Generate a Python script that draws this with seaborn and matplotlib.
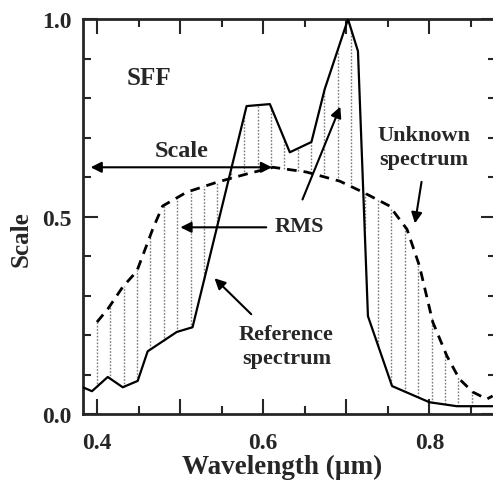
import numpy as np
import pandas as pd
import matplotlib
matplotlib.use("Agg")
import matplotlib.pyplot as plt
from matplotlib.ticker import MultipleLocator, FuncFormatter
import seaborn as sns

# spettro di riferimento (linea continua)
ref_x = [0.383, 0.394, 0.413, 0.431, 0.449, 0.461, 0.496, 0.515, 0.580, 0.608,
         0.632, 0.658, 0.674, 0.702, 0.714, 0.726, 0.755, 0.800, 0.833, 0.876]
ref_y = [0.068, 0.058, 0.094, 0.068, 0.084, 0.159, 0.208, 0.220, 0.780, 0.785,
         0.663, 0.689, 0.823, 1.000, 0.919, 0.248, 0.071, 0.030, 0.020, 0.020]

# spettro sconosciuto (linea tratteggiata)
unk_x = [0.400, 0.413, 0.431, 0.448, 0.467, 0.479, 0.508, 0.544, 0.580, 0.612,
         0.652, 0.692, 0.720, 0.752, 0.773, 0.788, 0.804, 0.821, 0.836, 0.852,
         0.869, 0.876]
unk_y = [0.233, 0.266, 0.322, 0.362, 0.468, 0.527, 0.562, 0.587, 0.608, 0.625,
         0.613, 0.590, 0.562, 0.527, 0.468, 0.375, 0.233, 0.147, 0.089, 0.056,
         0.038, 0.046]

x_tick_labels = {0.4: "0.4", 0.6: "0.6", 0.8: "0.8"}
y_tick_labels = {0.0: "0.0", 0.5: "0.5", 1.0: "1.0"}

sns.set_style("ticks")
plt.rcParams["font.family"] = ["Liberation Serif", "DejaVu Serif"]
plt.rcParams["font.weight"] = "bold"

fig = plt.figure(figsize=(4.93, 4.81), dpi=100)
ax = fig.add_axes([0.168, 0.137, 0.838, 0.821])

# righe verticali tratteggiate fra le due curve (RMS)
hx = np.arange(0.400, 0.860, 0.0161)
hr = np.interp(hx, ref_x, ref_y)
hu = np.interp(hx, unk_x, unk_y)
ax.vlines(hx, np.minimum(hr, hu), np.maximum(hr, hu), colors="#7a7a7a",
          linestyles=(0, (1.2, 1.2)), linewidth=1.0, zorder=1)

sns.lineplot(x=ref_x, y=ref_y, ax=ax, color="black", linewidth=1.6,
             sort=False, zorder=3)
sns.lineplot(x=unk_x, y=unk_y, ax=ax, color="black", linewidth=2.0,
             sort=False, zorder=3)
ax.lines[-1].set_dashes((3.5, 2.5))

ax.set_xlim(0.383, 0.880)
ax.set_ylim(0, 1.0)

ax.xaxis.set_major_locator(MultipleLocator(0.1))
ax.xaxis.set_minor_locator(MultipleLocator(0.05))
ax.xaxis.set_major_formatter(FuncFormatter(lambda v, p: x_tick_labels.get(round(v, 2), "")))
ax.yaxis.set_major_locator(MultipleLocator(0.5))
ax.yaxis.set_minor_locator(MultipleLocator(0.1))
ax.yaxis.set_major_formatter(FuncFormatter(lambda v, p: y_tick_labels.get(round(v, 2), "")))

ax.tick_params(which="both", direction="in", top=True, right=True,
               labelsize=17, width=1.5)
ax.tick_params(axis="x", pad=13)
ax.tick_params(axis="y", pad=8)
ax.tick_params(which="major", length=11)
ax.tick_params(which="minor", length=6)
for s in ax.spines.values():
    s.set_linewidth(2.0)

ax.set_xlabel("Wavelength (µm)", fontsize=19.5, fontweight="bold")
ax.set_ylabel("Scale", fontsize=18, fontweight="bold")
ax.xaxis.set_label_coords(0.482, -0.100)
ax.yaxis.set_label_coords(-0.121, 0.446)

tfont = dict(fontsize=16, fontweight="bold", ha="center", va="center")
arr = dict(arrowstyle="-|>", color="black", lw=1.5, mutation_scale=16)

ax.text(0.436, 0.853, "SFF", fontsize=18, fontweight="bold", ha="left", va="center")

ax.text(0.502, 0.667, "Scale", fontsize=17.5, fontweight="bold", ha="center", va="center")
ax.annotate("", xy=(0.389, 0.625), xytext=(0.614, 0.625),
            arrowprops=dict(arrowstyle="<|-|>", color="black", lw=1.5, mutation_scale=16))

ax.text(0.643, 0.476, "RMS", **tfont)
ax.annotate("", xy=(0.497, 0.473), xytext=(0.607, 0.473), arrowprops=arr)
ax.annotate("", xy=(0.694, 0.785), xytext=(0.646, 0.537), arrowprops=arr)

ax.text(0.628, 0.172, "Reference\nspectrum", linespacing=1.25, **tfont)
ax.annotate("", xy=(0.539, 0.349), xytext=(0.588, 0.248), arrowprops=arr)

ax.text(0.793, 0.676, "Unknown\nspectrum", linespacing=1.25, **tfont)
ax.annotate("", xy=(0.782, 0.476), xytext=(0.791, 0.595), arrowprops=arr)

fig.savefig("out.png", dpi=100)
